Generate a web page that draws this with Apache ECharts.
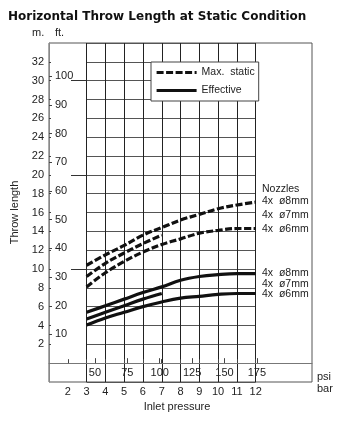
<!DOCTYPE html>
<html><head><meta charset="utf-8">
<script src="https://cdn.jsdelivr.net/npm/echarts@6/dist/echarts.min.js"></script>
<style>html,body{margin:0;padding:0;background:#fff}#c{width:350px;height:429px}</style>
</head><body><div id="c"></div>
<script>
// ---- data (inlet pressure in bar, throw length in metres) ----
const pressureBar = [3, 4, 5, 6, 7, 8, 9, 10, 11, 12];
const maxStatic8 = [10.4, 11.5, 12.5, 13.6, 14.4, 15.2, 15.8, 16.4, 16.8, 17.1];
const maxStatic7 = [9.2, 10.6, 11.7, 12.7, 13.6];
const maxStatic6 = [8.1, 9.6, 10.8, 11.8, 12.6, 13.2, 13.8, 14.1, 14.3, 14.3];
const effective8 = [5.4, 6.1, 6.8, 7.5, 8.1, 8.8, 9.2, 9.4, 9.5, 9.5];
const effective7 = [4.7, 5.4, 6.1, 6.8, 7.4];
const effective6 = [4.05, 4.8, 5.4, 6.0, 6.5, 6.9, 7.1, 7.3, 7.4, 7.4];

// ---- tick labels ----
const barTicks = [2, 3, 4, 5, 6, 7, 8, 9, 10, 11, 12];
const psiTicks = [50, 75, 100, 125, 150, 175];
const meterTicks = [2, 4, 6, 8, 10, 12, 14, 16, 18, 20, 22, 24, 26, 28, 30, 32];
const feetTicks = [10, 20, 30, 40, 50, 60, 70, 80, 90, 100];
const majorMeters = [10, 20, 30];
const staticNozzles = ['4x  ø8mm', '4x  ø7mm', '4x  ø6mm'];
const effectiveNozzles = ['4x  ø8mm', '4x  ø7mm', '4x  ø6mm'];

const PSI_PER_BAR = 14.5038, M_PER_FT = 0.3048;
const X_MIN = 1, X_MAX = 15, Y_MIN = -2, Y_MAX = 34;

const TXT = '#222';
const FONT = 'Liberation Sans';
const pairs = (ys) => ys.map((y, i) => [pressureBar[i], y]);

const dash = { type: [7, 2.5], width: 3.2, color: '#111', cap: 'butt' };
const solid = { type: 'solid', width: 3.2, color: '#111' };
function curve(name, ys, ls) {
  return { name, type: 'line', xAxisIndex: 1, yAxisIndex: 1, data: pairs(ys),
    smooth: 0.4, symbol: 'none', lineStyle: ls, itemStyle: { color: '#111' }, z: 3 };
}

const chart = echarts.init(document.getElementById('c'), null, { renderer: 'canvas' });
const gridBox = { top: 43, height: 339 };
chart.setOption({
  animation: false,
  textStyle: { fontFamily: FONT, color: TXT },
  title: { text: 'Horizontal Throw Length at Static Condition', left: 3, top: 6,
    textStyle: { fontFamily: 'DejaVu Sans', fontWeight: 'bold', fontSize: 12, color: '#111' } },
  grid: [
    { left: 49, width: 263, ...gridBox, show: true, borderColor: '#555', borderWidth: 1 },
    { left: 86.6, width: 169.1, ...gridBox },
    { left: 71, width: 15.6, ...gridBox },
    { left: 49, width: 263, ...gridBox }
  ],
  xAxis: [
    { gridIndex: 0, type: 'value', min: X_MIN, max: X_MAX, position: 'bottom',
      axisLine: { show: true, lineStyle: { color: '#777' } },
      axisTick: { show: true, inside: true, length: 4, customValues: barTicks, lineStyle: { color: '#444' } },
      axisLabel: { customValues: barTicks, margin: 4, fontSize: 11, color: TXT, fontFamily: FONT },
      splitLine: { show: false } },
    { gridIndex: 1, type: 'value', min: 3, max: 12, interval: 1,
      axisLine: { show: false }, axisTick: { show: false }, axisLabel: { show: false },
      splitLine: { show: true, lineStyle: { color: '#222', width: 1 } } },
    { gridIndex: 2, type: 'value', min: 0, max: 1, show: false },
    { gridIndex: 3, type: 'value', min: X_MIN * PSI_PER_BAR, max: X_MAX * PSI_PER_BAR, position: 'bottom',
      axisLine: { show: false },
      axisTick: { show: true, inside: true, length: 5, customValues: psiTicks, lineStyle: { color: '#444' } },
      axisLabel: { inside: true, customValues: psiTicks, margin: 4, fontSize: 11, color: TXT, fontFamily: FONT },
      splitLine: { show: false } }
  ],
  yAxis: [
    { gridIndex: 0, type: 'value', min: Y_MIN, max: Y_MAX, position: 'left',
      axisLine: { show: true, lineStyle: { color: '#888' } },
      axisTick: { show: true, inside: true, length: 2, customValues: meterTicks, lineStyle: { color: '#444' } },
      axisLabel: { customValues: meterTicks, margin: 5, fontSize: 11, color: TXT, fontFamily: FONT },
      splitLine: { show: false },
      name: 'Throw length', nameLocation: 'middle', nameGap: 27,
      nameTextStyle: { fontSize: 11, color: TXT, fontFamily: FONT } },
    { gridIndex: 1, type: 'value', min: Y_MIN, max: Y_MAX, interval: 2,
      axisLine: { show: false }, axisTick: { show: false }, axisLabel: { show: false },
      splitLine: { show: true, lineStyle: { color: '#555', width: 1 } } },
    { gridIndex: 2, type: 'value', min: Y_MIN, max: Y_MAX, show: false },
    { gridIndex: 3, type: 'value', min: Y_MIN / M_PER_FT, max: Y_MAX / M_PER_FT, position: 'left',
      axisLine: { show: false },
      axisTick: { show: true, inside: true, length: 3, customValues: feetTicks, lineStyle: { color: '#444' } },
      axisLabel: { inside: true, customValues: feetTicks, margin: 6, fontSize: 11, color: TXT, fontFamily: FONT },
      splitLine: { show: false } }
  ],
  legend: {
    data: ['Max. static', 'Effective'], orient: 'vertical', left: 151, top: 62,
    backgroundColor: '#fff', borderColor: '#444', borderWidth: 1, borderRadius: 0,
    padding: [5, 4, 5, 4], itemWidth: 40, itemHeight: 10, itemGap: 7,
    itemStyle: { opacity: 0 },
    lineStyle: { width: 3.2 },
    textStyle: { fontSize: 10.5, color: TXT, fontFamily: FONT },
    formatter: (n) => n === 'Max. static' ? 'Max.  static' : n,
    selectedMode: false, z: 10
  },
  graphic: [
    { type: 'text', left: 32, top: 27, style: { text: 'm.', font: '11px "Liberation Sans"', fill: TXT } },
    { type: 'text', left: 55, top: 27, style: { text: 'ft.', font: '11px "Liberation Sans"', fill: TXT } },
    { type: 'text', left: 317, top: 371, style: { text: 'psi', font: '11px "Liberation Sans"', fill: TXT } },
    { type: 'text', left: 317, top: 383, style: { text: 'bar', font: '11px "Liberation Sans"', fill: TXT } },
    { type: 'text', x: 177, y: 407, style: { text: 'Inlet pressure', font: '11px "Liberation Sans"', fill: TXT, textAlign: 'center', textVerticalAlign: 'middle' } },
    { type: 'text', x: 262, y: 189.5, style: { text: 'Nozzles', font: '10.5px "Liberation Sans"', fill: TXT, textVerticalAlign: 'middle' } },
    ...staticNozzles.map((t, i) => ({ type: 'text', x: 262, y: [201.5, 215.5, 229][i],
      style: { text: t, font: '10.5px "Liberation Sans"', fill: TXT, textVerticalAlign: 'middle' } })),
    ...effectiveNozzles.map((t, i) => ({ type: 'text', x: 262, y: [273, 284, 294.5][i],
      style: { text: t, font: '10.5px "Liberation Sans"', fill: TXT, textVerticalAlign: 'middle' } }))
  ],
  series: [
    curve('Max. static', maxStatic8, dash),
    curve('Max. static', maxStatic7, dash),
    curve('Max. static', maxStatic6, dash),
    curve('Effective', effective8, solid),
    curve('Effective', effective7, solid),
    curve('Effective', effective6, solid),
    { type: 'line', name: 'major', xAxisIndex: 2, yAxisIndex: 2, data: [], silent: true,
      markLine: { silent: true, symbol: ['none', 'none'], label: { show: false },
        lineStyle: { type: 'solid', color: '#333', width: 1 },
        data: majorMeters.map(v => ({ yAxis: v })) } }
  ]
});
</script></body></html>
